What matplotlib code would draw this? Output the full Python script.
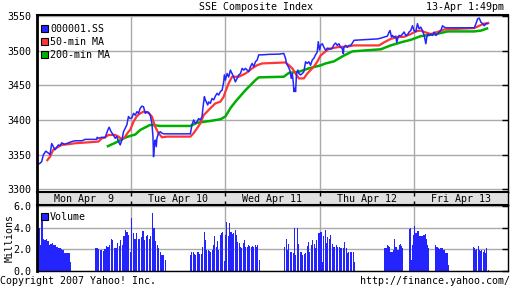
import numpy as np
import matplotlib
matplotlib.use("Agg")
import matplotlib.pyplot as plt
from matplotlib.patches import Patch

plt.rcParams['font.family'] = ['DejaVu Sans Mono']
FS = 7.2

# ---------------- data (x in trading-chart day units, 0 = left edge) ----------------
blue_t = [0.0, 0.032, 0.05, 0.067, 0.093, 0.114, 0.138, 0.156, 0.173, 0.191, 0.21, 0.227, 0.245,
          0.263, 0.29, 0.316, 0.333, 0.369, 0.404, 0.476, 0.511, 0.635, 0.638, 0.652, 0.688, 0.723,
          0.752, 0.766, 0.787, 0.812, 0.83, 0.848, 0.865, 0.883, 0.901, 0.918, 0.936, 0.954, 0.971,
          0.989, 1.007, 1.025, 1.043, 1.061, 1.078, 1.096, 1.114, 1.131, 1.149, 1.167, 1.184, 1.202,
          1.22, 1.231, 1.237, 1.248, 1.255, 1.266, 1.273, 1.29, 1.309, 1.327, 1.344, 1.38, 1.628,
          1.645, 1.663, 1.681, 1.699, 1.716, 1.734, 1.752, 1.763, 1.777, 1.787, 1.798, 1.812, 1.822,
          1.84, 1.858, 1.876, 1.894, 1.912, 1.929, 1.947, 1.965, 1.982, 1.989, 2.0, 2.018, 2.035,
          2.053, 2.071, 2.088, 2.106, 2.124, 2.142, 2.16, 2.178, 2.195, 2.213, 2.231, 2.248, 2.266,
          2.284, 2.301, 2.319, 2.337, 2.354, 2.39, 2.461, 2.567, 2.62, 2.638, 2.649, 2.667, 2.684,
          2.699, 2.71, 2.72, 2.727, 2.737, 2.745, 2.755, 2.769, 2.78, 2.798, 2.816, 2.833, 2.851,
          2.869, 2.886, 2.904, 2.922, 2.939, 2.957, 2.975, 2.986, 3.0, 3.011, 3.029, 3.046, 3.064,
          3.082, 3.099, 3.117, 3.135, 3.152, 3.17, 3.188, 3.205, 3.223, 3.241, 3.252, 3.258, 3.277,
          3.295, 3.312, 3.33, 3.348, 3.365, 3.614, 3.649, 3.684, 3.72, 3.737, 3.748, 3.763, 3.773,
          3.791, 3.809, 3.819, 3.833, 3.844, 3.862, 3.88, 3.897, 3.915, 3.933, 3.95, 3.968, 3.986,
          4.003, 4.021, 4.039, 4.056, 4.074, 4.092, 4.11, 4.128, 4.138, 4.152, 4.163, 4.181, 4.199,
          4.216, 4.234, 4.252, 4.269, 4.287, 4.305, 4.322, 4.34, 4.642, 4.66, 4.678, 4.695, 4.713,
          4.731, 4.748, 4.766, 4.784]
blue_p = [3335, 3337.6, 3340, 3349.6, 3355, 3353, 3350, 3366, 3361.5, 3357, 3360.6, 3364, 3363,
          3367, 3365, 3366, 3367, 3368.8, 3370, 3370, 3372, 3372, 3375, 3373.6, 3375, 3374.5,
          3385.6, 3389.5, 3383, 3378, 3373.6, 3376, 3369, 3364, 3371, 3383, 3388, 3393, 3405,
          3402, 3403, 3409.6, 3407, 3412, 3409.6, 3417, 3420, 3419, 3409.6, 3412, 3410.6, 3407,
          3395, 3376, 3347, 3366, 3371, 3361.5, 3373.6, 3381, 3383, 3381, 3380, 3380, 3380,
          3393, 3400, 3395, 3397.6, 3402, 3400, 3405, 3419, 3433.6, 3429, 3426, 3421.6, 3426,
          3424, 3431, 3429, 3434.6, 3438.5, 3436, 3441, 3443, 3455, 3465, 3457.6, 3467, 3462,
          3472, 3467, 3462, 3455, 3460, 3465, 3467, 3474.5, 3472, 3474.5, 3472, 3469.6, 3477,
          3481.6, 3477, 3484, 3486.5, 3494, 3494, 3494.7, 3495, 3496, 3489, 3481.6, 3477, 3472,
          3460, 3467, 3455, 3441, 3445.7, 3441, 3467, 3472, 3467, 3465, 3467, 3469.6, 3484,
          3481.6, 3484, 3479, 3486.5, 3489, 3494, 3498, 3513, 3501, 3508, 3510, 3505, 3500.4,
          3503.7, 3503, 3502, 3503.7, 3508.5, 3511, 3507.6, 3510, 3505, 3503, 3495.6, 3505, 3507.6,
          3505, 3507.6, 3507.6, 3511, 3515, 3517, 3518, 3519.6, 3521, 3526.8, 3529, 3519.6, 3522,
          3519.6, 3521, 3512, 3519.6, 3522, 3521, 3524, 3527, 3522, 3523, 3527, 3529, 3536,
          3529, 3527, 3539, 3531.6, 3534, 3529, 3522, 3510, 3519.6, 3524, 3522, 3524, 3522,
          3526.8, 3522, 3524, 3526.8, 3529, 3536, 3534, 3533, 3533, 3539, 3546, 3547, 3541,
          3539, 3536, 3539, 3539]

red_t = [0.11, 0.138, 0.173, 0.21, 0.263, 0.333, 0.404, 0.511, 0.652, 0.688, 0.723, 0.759, 0.83,
         0.865, 0.901, 0.936, 0.971, 0.989, 1.025, 1.061, 1.096, 1.131, 1.184, 1.22, 1.255, 1.29,
         1.327, 1.38, 1.628, 1.663, 1.699, 1.734, 1.769, 1.805, 1.84, 1.894, 1.947, 1.982, 2.0,
         2.035, 2.071, 2.142, 2.213, 2.284, 2.337, 2.39, 2.638, 2.674, 2.71, 2.745, 2.78, 2.833,
         2.869, 2.904, 2.939, 2.975, 3.011, 3.046, 3.099, 3.188, 3.295, 3.365, 3.631, 3.684,
         3.755, 3.827, 3.897, 3.968, 4.021, 4.074, 4.11, 4.181, 4.252, 4.322, 4.642, 4.695,
         4.748, 4.79]
red_p = [3342, 3347, 3357, 3360, 3364, 3365, 3366.4, 3367.4, 3368.8, 3373.6, 3375, 3378.4, 3378.4,
         3376, 3372, 3376, 3383, 3385.6, 3397.6, 3405.8, 3409.6, 3412, 3410.5, 3404.8, 3390, 3381,
         3375, 3376, 3376, 3381, 3388, 3395, 3407, 3412, 3417, 3424, 3426.4, 3433.6, 3441,
         3453, 3462.4, 3462.4, 3467, 3474.5, 3479, 3481.6, 3483, 3479, 3474.5, 3467, 3460, 3460,
         3467, 3472, 3477, 3484, 3493, 3497, 3502.7, 3505, 3506, 3507.6, 3507.6, 3512,
         3517, 3519.6, 3520, 3524, 3528, 3529, 3527, 3524, 3527, 3530.6, 3532.6, 3536,
         3539, 3540]

green_t = [0.741, 0.83, 0.936, 0.989, 1.043, 1.096, 1.202, 1.309, 1.628, 1.699, 1.84, 1.947, 2.0,
           2.053, 2.106, 2.213, 2.319, 2.354, 2.62, 2.674, 2.78, 2.886, 2.957, 3.011, 3.064,
           3.152, 3.258, 3.348, 3.649, 3.755, 3.862, 3.968, 4.074, 4.252, 4.358, 4.642, 4.713, 4.79]
green_p = [3361.5, 3367, 3374.5, 3377, 3379, 3385.6, 3393, 3391.4, 3391.4, 3396, 3398.6, 3401, 3405,
           3417, 3426.4, 3443, 3457.6, 3461.5, 3462.4, 3468, 3469.6, 3474.5, 3477, 3478.8, 3481.6,
           3484.6, 3493, 3499, 3502, 3507.6, 3512, 3515.7, 3521, 3524.4, 3527.8, 3527.8, 3529, 3532.6]

# volume sessions (start, end) in day units and volumes in millions
sessions = [(0.005, 0.355), (0.62, 1.36), (1.63, 2.36), (2.63, 3.37), (3.63, 4.37), (4.63, 4.79)]
vol_mon = [3.3, 4.0, 2.4, 4.7, 3.0, 2.9, 3.0, 2.8, 2.4, 2.5, 2.6, 2.4, 2.4, 2.2, 2.1, 2.1, 2.0,
           1.95, 1.7, 1.7, 1.7, 1.7, 0.8]
vol_tue = [2.1, 2.1, 2.0, 1.9, 1.9, 1.85, 2.0, 2.3, 2.2, 2.4, 3.0, 2.9, 2.1, 2.1, 2.6, 2.3, 2.9,
           2.4, 3.2, 3.8, 3.6, 3.3, 1.8, 4.9, 3.5, 3.0, 3.5, 3.0, 3.0, 3.1, 3.7, 2.9, 3.2, 3.3,
           3.0, 3.2, 5.4, 4.0, 2.8, 2.4, 2.1, 1.8, 1.5, 1.5, 1.0]
vol_wed = [1.5, 1.8, 1.8, 1.6, 1.5, 1.8, 1.75, 1.55, 1.6, 2.25, 3.6, 2.9, 1.9, 1.9, 1.85, 1.8,
           1.9, 2.4, 3.2, 2.25, 2.8, 1.9, 3.3, 3.5, 3.6, 0.9, 3.3, 4.55, 3.2, 4.4, 3.6, 3.4, 3.5,
           3.8, 3.3, 2.7, 2.6, 2.25, 2.1, 2.6, 2.9, 2.25, 2.25, 2.4, 2.3, 2.2, 2.3, 2.2, 2.4,
           2.2, 2.4, 1.0]
vol_thu = [2.25, 3.0, 1.9, 2.45, 1.8, 1.75, 1.65, 4.0, 1.5, 3.95, 2.45, 1.8, 1.8, 1.5, 1.55,
           1.65, 2.35, 2.7, 1.8, 2.4, 2.9, 2.45, 2.1, 2.9, 3.5, 3.5, 3.6, 0.85, 3.2, 3.8, 2.6,
           3.1, 3.0, 3.3, 2.45, 2.2, 2.25, 2.4, 2.2, 2.25, 2.1, 2.1, 2.1, 2.7, 2.1, 1.65, 1.8,
           1.8, 1.8, 1.8, 0.85]
vol_fri = [2.35, 2.35, 2.0, 1.9, 1.8, 2.1, 2.1, 2.15, 2.4, 2.35, 2.25, 1.8, 1.75, 1.75, 1.9,
           2.95, 2.25, 2.2, 1.9, 1.9, 2.4, 2.45, 2.35, 2.15, 2.45, 2.55, 2.7, 3.2, 3.5, 3.9, 4.0,
           1.0, 2.4, 3.3, 4.15, 3.5, 3.5, 3.7, 3.7, 3.25, 3.2, 3.2, 3.2, 3.3, 3.35, 3.4, 3.0,
           2.4, 2.1, 2.4, 2.25, 2.25, 2.7, 2.35, 2.4, 2.25, 2.25, 2.1, 2.0, 2.1, 2.1, 2.1, 1.95,
           1.95, 1.65, 1.65, 1.65, 0.6]
vol_fri2 = [2.25, 2.1, 1.95, 2.05, 2.35, 1.9, 1.85, 1.9, 1.8, 1.95, 1.7, 2.1, 0.1]
volumes = [vol_mon, vol_tue, vol_wed, vol_thu, vol_fri, vol_fri2]

day_labels = ["Mon Apr  9", "Tue Apr 10", "Wed Apr 11", "Thu Apr 12", "Fri Apr 13"]
price_ticks = [3300, 3350, 3400, 3450, 3500, 3550]
vol_ticks = [0, 2, 4, 6]
title = "SSE Composite Index"
stamp = "13-Apr 1:49pm"
series_names = ["000001.SS", "50-min MA", "200-min MA"]

BLUE = '#2424ff'
RED = '#ff3535'
GREEN = '#00b000'
GRID = '#aaaaaa'

W, H = 512, 288
fig = plt.figure(figsize=(W / 100, H / 100), dpi=100)


def rect(l, t, r, b):
    return [l / W, 1 - b / H, (r - l) / W, (b - t) / H]


ax = fig.add_axes(rect(37, 15, 508, 191.7))
axd = fig.add_axes(rect(37, 191.7, 508, 205))
axv = fig.add_axes(rect(37, 205, 508, 271))

XMAX = 5.0
for a in (ax, axd, axv):
    a.set_xlim(0, XMAX)
    for s in a.spines.values():
        s.set_color('black')
        s.set_linewidth(1.0)
    a.spines['left'].set_linewidth(2.0)
    a.spines['top'].set_linewidth(1.5)

# main price chart
ax.set_ylim(3296.5, 3551.5)
ax.set_axisbelow(True)
ax.set_yticks(price_ticks)
ax.set_yticklabels([str(v) for v in price_ticks], fontsize=FS)
ax.set_xticks([1, 2, 3, 4])
ax.set_xticklabels([])
ax.grid(True, color=GRID, linewidth=1.0)
ax.tick_params(axis='y', left=False, right=True, direction='in', length=4, pad=4, width=1)
ax.tick_params(axis='x', bottom=False, top=False, length=0)
ax.plot(green_t, green_p, color=GREEN, lw=1.8, solid_capstyle='butt')
ax.plot(red_t, red_p, color=RED, lw=1.6)
ax.plot(blue_t, blue_p, color=BLUE, lw=1.1)

handles = [Patch(facecolor=c, edgecolor='black', linewidth=0.8) for c in (BLUE, RED, GREEN)]
leg = ax.legend(handles, series_names, loc='upper left', frameon=False, fontsize=FS,
                handlelength=0.7, handleheight=0.7, handletextpad=0.25, labelspacing=0.3,
                borderaxespad=0.0, borderpad=0.35, bbox_to_anchor=(0.0, 0.97))

# date bar
axd.set_facecolor('#e0e0e0')
axd.set_ylim(0, 1)
axd.set_yticks([])
axd.set_xticks([1, 2, 3, 4])
axd.set_xticklabels([])
axd.tick_params(axis='x', bottom=True, top=True, direction='in', length=3, width=1, color='black')
for i, lab in enumerate(day_labels):
    axd.text(i + 0.5, 0.45, lab, ha='center', va='center', fontsize=FS)

# volume chart
axv.set_ylim(0, 6.1)
axv.set_axisbelow(True)
axv.set_yticks(vol_ticks)
axv.set_yticklabels(["%.1f" % v for v in vol_ticks], fontsize=FS)
axv.set_xticks([1, 2, 3, 4])
axv.set_xticklabels([])
axv.grid(True, color=GRID, linewidth=1.0)
axv.tick_params(axis='y', left=False, right=True, direction='in', length=4, pad=4, width=1)
axv.tick_params(axis='x', bottom=False, top=False, length=0)
for (s0, s1), vols in zip(sessions, volumes):
    xs = np.linspace(s0, s1, len(vols))
    pitch = (s1 - s0) / max(len(vols) - 1, 1)
    axv.bar(xs, vols, width=pitch * 0.75, color=BLUE, linewidth=0)
axv.set_ylabel("Millions", fontsize=FS, va='center')
axv.yaxis.set_label_coords(-0.058, 0.5)
vleg = axv.legend([Patch(facecolor=BLUE, edgecolor='black', linewidth=0.8)], ["Volume"],
                  loc='upper left', frameon=False, fontsize=FS, handlelength=0.7,
                  handleheight=0.7, handletextpad=0.25, borderaxespad=0.0, borderpad=0.35,
                  bbox_to_anchor=(0.0, 0.95))

# header / footer text
fig.text(256 / W, 1 - 7 / H, title, ha='center', va='center', fontsize=FS)
fig.text(504 / W, 1 - 7 / H, stamp, ha='right', va='center', fontsize=FS)
fig.text(0 / W, 1 - 281 / H, "Copyright 2007 Yahoo! Inc.", ha='left', va='center', fontsize=FS)
fig.text(510 / W, 1 - 281 / H, "http://finance.yahoo.com/", ha='right', va='center', fontsize=FS)

fig.savefig("out.png", dpi=100)
